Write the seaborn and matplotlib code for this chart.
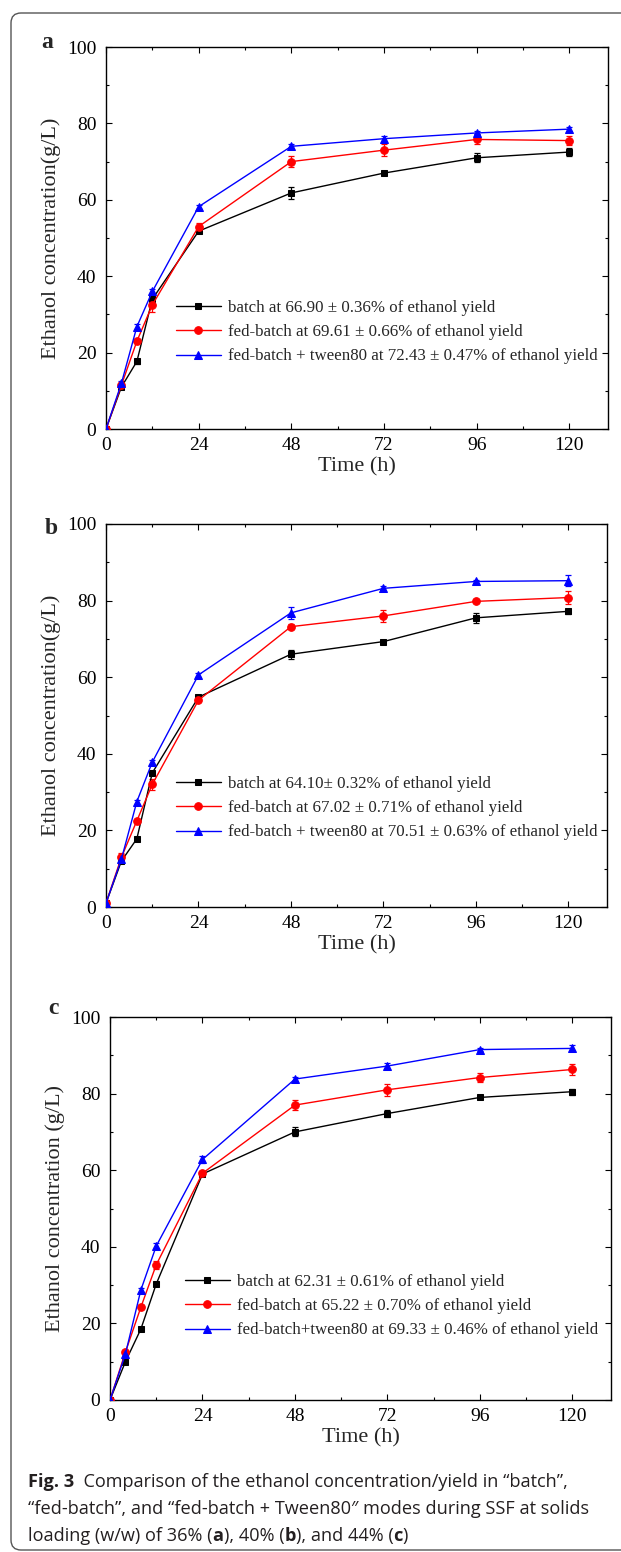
import numpy as np
import pandas as pd
import seaborn as sns
import matplotlib.pyplot as plt
from matplotlib.path import Path
from matplotlib.patches import PathPatch
from matplotlib.ticker import MultipleLocator

# data
time_h = [0, 4, 8, 12, 24, 48, 72, 96, 120]

# a: 36% solids
a_batch = [0, 11.0, 17.7, 34.0, 51.8, 61.8, 67.0, 71.0, 72.5]
a_batch_err = [0, 0.5, 0.6, 1.0, 0.5, 1.5, 0.5, 1.2, 1.0]
a_fed = [0, 11.5, 23.0, 32.5, 53.0, 70.0, 73.0, 75.8, 75.5]
a_fed_err = [0, 0.5, 0.5, 2.0, 1.0, 1.5, 1.5, 1.3, 1.2]
a_tween = [0, 12.0, 26.8, 36.0, 58.2, 74.0, 76.0, 77.5, 78.5]
a_tween_err = [0, 0.5, 0.8, 0.7, 0.5, 0.6, 0.8, 0.4, 0.5]
a_labels = ["batch at 66.90 \u00b1 0.36% of ethanol yield",
            "fed-batch at 69.61 \u00b1 0.66% of ethanol yield",
            "fed-batch + tween80 at 72.43 \u00b1 0.47% of ethanol yield"]

# b: 40% solids
b_batch = [1, 12.0, 17.8, 35.0, 54.8, 66.0, 69.3, 75.5, 77.2]
b_batch_err = [0, 0.6, 0.5, 0.5, 0.5, 1.2, 0.5, 1.3, 0.6]
b_fed = [1, 13.0, 22.5, 32.0, 54.0, 73.2, 76.0, 79.8, 80.8]
b_fed_err = [0, 1.0, 0.5, 1.5, 0.5, 0.6, 1.5, 0.5, 1.7]
b_tween = [1, 12.5, 27.5, 37.8, 60.6, 76.8, 83.2, 85.0, 85.2]
b_tween_err = [0, 0.5, 0.5, 0.6, 0.5, 1.5, 0.5, 0.5, 1.5]
b_labels = ["batch at 64.10\u00b1 0.32% of ethanol yield",
            "fed-batch at 67.02 \u00b1 0.71% of ethanol yield",
            "fed-batch + tween80 at 70.51 \u00b1 0.63% of ethanol yield"]

# c: 44% solids
c_batch = [0, 10.0, 18.5, 30.3, 59.0, 70.0, 74.8, 79.0, 80.5]
c_batch_err = [0, 0.5, 0.5, 0.5, 0.5, 1.2, 0.8, 0.5, 0.8]
c_fed = [0, 12.5, 24.2, 35.3, 59.2, 77.0, 81.0, 84.2, 86.3]
c_fed_err = [0, 0.5, 0.5, 1.0, 0.5, 1.3, 1.5, 1.3, 1.5]
c_tween = [0, 12.0, 28.7, 40.2, 62.8, 83.8, 87.2, 91.5, 91.8]
c_tween_err = [0, 0.5, 0.6, 0.8, 0.8, 0.6, 0.7, 0.5, 0.8]
c_labels = ["batch at 62.31 \u00b1 0.61% of ethanol yield",
            "fed-batch at 65.22 \u00b1 0.70% of ethanol yield",
            "fed-batch+tween80 at 69.33 \u00b1 0.46% of ethanol yield"]

colors = ["black", "red", "blue"]
markers = ["s", "o", "^"]
msizes = [5, 5.5, 6]

sns.set_style("ticks")
plt.rcParams["font.family"] = ["Liberation Serif", "DejaVu Serif"]

W, H = 621, 1552
fig = plt.figure(figsize=(W / 100, H / 100), dpi=100)


def px_axes(left, top, right, bottom):
    return fig.add_axes([left / W, 1 - bottom / H, (right - left) / W, (bottom - top) / H])


# outer frame (rounded on the left, open on the right like the page crop)
r = 10
fl, ft, fb, fr = 11, 13, 1550, 700
verts = [(fr, ft), (fl + r, ft), (fl, ft), (fl, ft + r), (fl, fb - r), (fl, fb), (fl + r, fb), (fr, fb)]
codes = [Path.MOVETO, Path.LINETO, Path.CURVE3, Path.CURVE3, Path.LINETO, Path.CURVE3, Path.CURVE3, Path.LINETO]
verts = [(x / W, 1 - y / H) for x, y in verts]
fig.patches.append(PathPatch(Path(verts, codes), transform=fig.transFigure, fill=False,
                             edgecolor="#555555", linewidth=1.0))

panels = [
    ("a", (106, 47, 608, 429), [a_batch, a_fed, a_tween], [a_batch_err, a_fed_err, a_tween_err],
     a_labels, "Ethanol concentration(g/L)", (176, 332), (47, 43)),
    ("b", (106, 524, 607, 907), [b_batch, b_fed, b_tween], [b_batch_err, b_fed_err, b_tween_err],
     b_labels, "Ethanol concentration(g/L)", (176, 808), (51, 528)),
    ("c", (110, 1017, 611, 1400), [c_batch, c_fed, c_tween], [c_batch_err, c_fed_err, c_tween_err],
     c_labels, "Ethanol concentration (g/L)", (185, 1306), (53, 1008)),
]

for letter, box, series, errs, labels, ylab, leg_xy, let_xy in panels:
    ax = px_axes(*box)
    for vals, err, col, mk, ms, lab in zip(series, errs, colors, markers, msizes, labels):
        ax.errorbar(time_h, vals, yerr=err, fmt="none", ecolor=col, elinewidth=0.9,
                    capsize=2.5, capthick=0.9, zorder=2)
        sns.lineplot(x=time_h, y=vals, ax=ax, color=col, marker=mk, markersize=ms,
                     markeredgecolor=col, linewidth=1.0, label=lab, zorder=3)
    ax.set_xlim(0, 130)
    ax.set_ylim(0, 100)
    ax.set_xticks([0, 24, 48, 72, 96, 120])
    ax.set_yticks([0, 20, 40, 60, 80, 100])
    ax.xaxis.set_minor_locator(MultipleLocator(12))
    ax.yaxis.set_minor_locator(MultipleLocator(10))
    ax.tick_params(which="both", direction="in", top=True, right=True, labelsize=14,
                   width=0.8, colors="black")
    ax.tick_params(which="major", length=4)
    ax.tick_params(which="minor", length=2.5)
    ax.tick_params(axis="x", pad=6)
    ax.tick_params(axis="y", pad=7)
    for sp in ax.spines.values():
        sp.set_linewidth(1.0)
        sp.set_color("black")
    ax.set_xlabel("Time (h)", fontsize=16, labelpad=2)
    ax.set_ylabel(ylab, fontsize=16, labelpad=4)
    lx = (leg_xy[0] - box[0]) / (box[2] - box[0])
    ly = (box[3] - leg_xy[1]) / (box[3] - box[1])
    ax.legend(loc="center left", bbox_to_anchor=(lx, ly), frameon=False, fontsize=12.2,
              handlelength=2.65, handletextpad=0.4, labelspacing=0.5,
              borderpad=0, borderaxespad=0)
    fig.text(let_xy[0] / W, 1 - let_xy[1] / H, letter, fontsize=17, fontweight="bold",
             ha="center", va="center")

# caption with mixed weights
cap_font = ["Open Sans", "DejaVu Sans"]
renderer = fig.canvas.get_renderer()


def caption_line(y_px, parts, x_px=28):
    x = x_px / W
    for txt, bold in parts:
        t = fig.text(x, 1 - y_px / H, txt, fontsize=13.1, family=cap_font,
                     fontweight="bold" if bold else "normal", color="#231f20",
                     ha="left", va="baseline")
        bb = t.get_window_extent(renderer=renderer)
        x += bb.width / W


caption_line(1487, [("Fig. 3", True),
                    ("  Comparison of the ethanol concentration/yield in \u201cbatch\u201d,", False)])
caption_line(1514, [("\u201cfed-batch\u201d, and \u201cfed-batch + Tween80\u2033 modes during SSF at solids", False)])
caption_line(1541, [("loading (w/w) of 36% (", False), ("a", True), ("), 40% (", False),
                    ("b", True), ("), and 44% (", False), ("c", True), (")", False)])

fig.savefig("out.png", dpi=100)
